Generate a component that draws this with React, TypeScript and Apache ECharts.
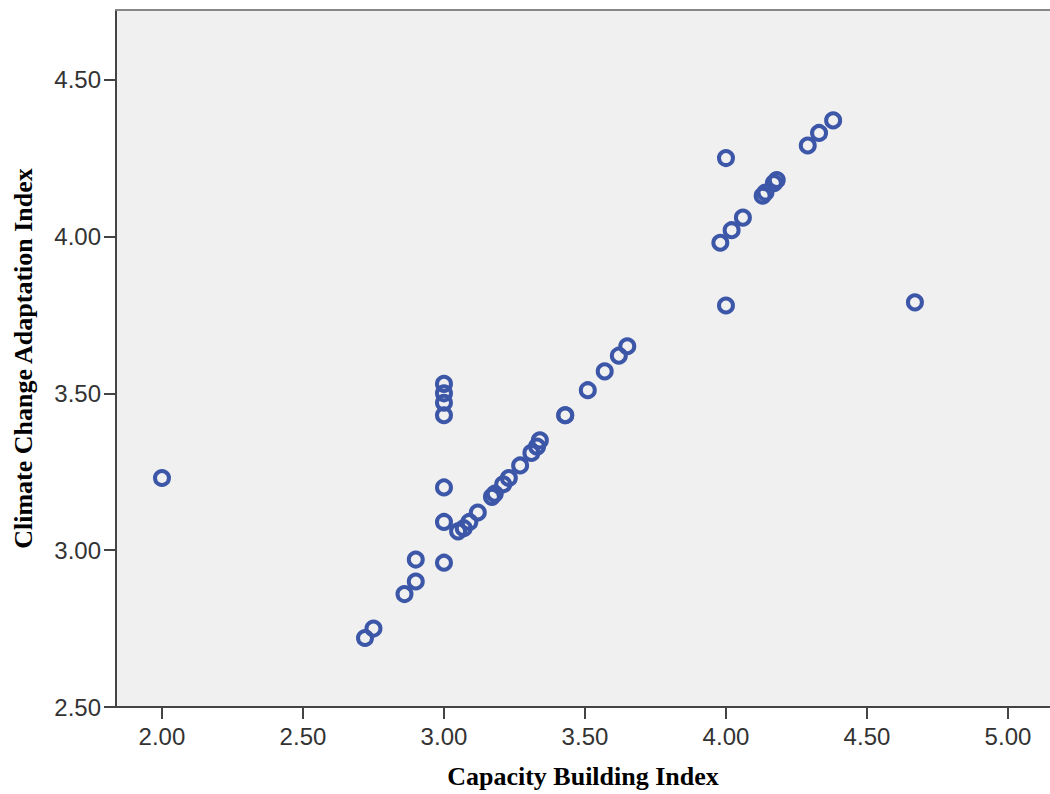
import React, { useEffect, useRef } from "react";
import * as echarts from "echarts";

const capacityBuilding: number[] = [
  2.0, 2.72, 2.75, 2.86, 2.9, 2.9, 3.0, 3.0, 3.0, 3.0, 3.0, 3.0, 3.0,
  3.05, 3.07, 3.09, 3.12, 3.17, 3.18, 3.21, 3.23, 3.27, 3.31, 3.33, 3.34,
  3.43, 3.43, 3.51, 3.57, 3.62, 3.65,
  3.98, 4.0, 4.0, 4.02, 4.06, 4.13, 4.14, 4.17, 4.18, 4.29, 4.33, 4.38, 4.67,
];
const climateAdaptation: number[] = [
  3.23, 2.72, 2.75, 2.86, 2.9, 2.97, 2.96, 3.09, 3.2, 3.43, 3.47, 3.5, 3.53,
  3.06, 3.07, 3.09, 3.12, 3.17, 3.18, 3.21, 3.23, 3.27, 3.31, 3.33, 3.35,
  3.43, 3.43, 3.51, 3.57, 3.62, 3.65,
  3.98, 4.25, 3.78, 4.02, 4.06, 4.13, 4.14, 4.17, 4.18, 4.29, 4.33, 4.37, 3.79,
];
const xTicks: number[] = [2.0, 2.5, 3.0, 3.5, 4.0, 4.5, 5.0];
const yTicks: number[] = [2.5, 3.0, 3.5, 4.0, 4.5];

export default function App() {
  const ref = useRef<HTMLDivElement>(null);
  useEffect(() => {
    if (!ref.current) return;
    const chart = echarts.init(ref.current, undefined, { renderer: "svg" });
    const points = capacityBuilding.map((x, i) => [x, climateAdaptation[i]]);
    const labelStyle = {
      fontFamily: "Liberation Sans",
      fontSize: 24,
      color: "#333333",
      formatter: (v: number) => v.toFixed(2),
    };
    const titleStyle = {
      fontFamily: "Liberation Serif",
      fontWeight: "bold",
      fontSize: 26,
      color: "#000000",
    };
    chart.setOption({
      animation: false,
      backgroundColor: "#ffffff",
      grid: {
        left: 116,
        right: 0,
        top: 10,
        bottom: 84,
        show: true,
        backgroundColor: "#f0f0f0",
        borderWidth: 0,
      },
      xAxis: [
        {
          type: "value",
          min: 1.837,
          max: 5.149,
          name: "Capacity Building Index",
          nameLocation: "middle",
          nameGap: 56,
          nameTextStyle: titleStyle,
          axisLine: { show: true, lineStyle: { color: "#444444", width: 2 } },
          axisTick: {
            show: true,
            length: 12,
            lineStyle: { color: "#444444", width: 2 },
            customValues: xTicks,
          },
          axisLabel: { ...labelStyle, margin: 17, customValues: xTicks },
          splitLine: { show: false },
        },
        {
          type: "value",
          position: "top",
          min: 1.837,
          max: 5.149,
          axisLine: { show: true, lineStyle: { color: "#888888", width: 2 } },
          axisTick: { show: false },
          axisLabel: { show: false },
          splitLine: { show: false },
        },
      ],
      yAxis: {
        type: "value",
        min: 2.5,
        max: 4.722,
        name: "Climate Change Adaptation Index",
        nameLocation: "middle",
        nameGap: 80,
        nameRotate: 90,
        nameTextStyle: titleStyle,
        axisLine: { show: true, lineStyle: { color: "#444444", width: 2 } },
        axisTick: {
          show: true,
          length: 12,
          lineStyle: { color: "#444444", width: 2 },
          customValues: yTicks,
        },
        axisLabel: { ...labelStyle, margin: 15, customValues: yTicks },
        splitLine: { show: false },
      },
      series: [
        {
          type: "scatter",
          xAxisIndex: 0,
          data: points,
          symbol: "circle",
          symbolSize: 14,
          itemStyle: {
            color: "transparent",
            borderColor: "#3c56a8",
            borderWidth: 4,
            opacity: 1,
          },
        },
      ],
    });
    return () => chart.dispose();
  }, []);
  return (
    <div
      ref={ref}
      style={{ position: "fixed", left: 0, top: 0, width: 1050, height: 794 }}
    />
  );
}
